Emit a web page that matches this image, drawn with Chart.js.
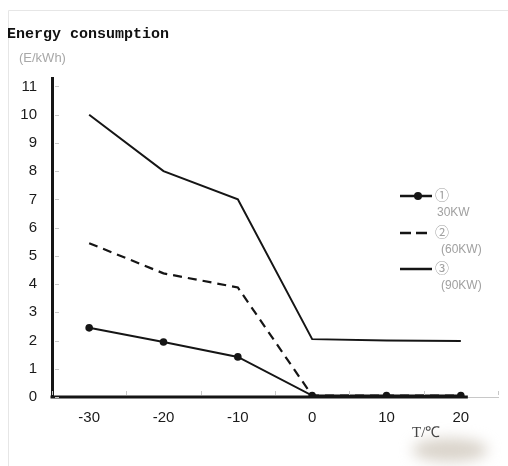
<!DOCTYPE html>
<html>
<head>
<meta charset="utf-8">
<script src="https://cdn.jsdelivr.net/npm/chart.js@4"></script>
<style>
  body { margin: 0; background: #fff; }
  #wrap { width: 508px; height: 466px; position: relative; }
</style>
</head>
<body>
<div id="wrap"><canvas id="myChart"></canvas></div>
<script>
// data
const temps = ['-30', '-20', '-10', '0', '10', '20'];
const kw30 = [2.45, 1.95, 1.42, 0.05, 0.05, 0.05];
const kw60 = [5.45, 4.38, 3.88, 0.05, 0.05, 0.05];
const kw90 = [10, 8, 7, 2.05, 2.0, 1.98];
const yTicks = [0, 1, 2, 3, 4, 5, 6, 7, 8, 9, 10, 11];
const legendNames = [['\u2460', '30KW'], ['\u2461', '(60KW)'], ['\u2462', '(90KW)']];

const ink = '#151515';

// texts, frame, small tick marks and the hand drawn legend
const extras = {
    id: 'extras',
    beforeDraw(chart) {
        const c = chart.ctx;
        c.save();
        // faint frame of the scanned figure
        c.strokeStyle = '#e6e6e6';
        c.lineWidth = 1;
        c.beginPath();
        c.moveTo(8.5, 466);
        c.lineTo(8.5, 10.5);
        c.lineTo(508, 10.5);
        c.stroke();
        // smudge in the bottom right corner
        c.filter = 'blur(7px)';
        c.fillStyle = 'rgba(205,198,186,0.75)';
        c.beginPath();
        c.ellipse(450, 450, 38, 12, 0, 0, Math.PI * 2);
        c.fill();
        c.restore();
    },
    afterDatasetsDraw(chart) {
        // heavy part of the x axis, up to the last category
        const c = chart.ctx;
        const x = chart.scales.x;
        const y = chart.scales.y;
        c.save();
        c.strokeStyle = ink;
        c.lineWidth = 3;
        c.beginPath();
        c.moveTo(x.left - 1.5, y.bottom);
        c.lineTo(x.getPixelForValue(temps.length - 1) + 7, y.bottom);
        c.stroke();
        c.restore();
    },
    afterDraw(chart) {
        const c = chart.ctx;
        const x = chart.scales.x;
        const y = chart.scales.y;
        c.save();

        // little tick marks inside the axes
        c.strokeStyle = '#c8c8c8';
        c.lineWidth = 1;
        yTicks.forEach(v => {
            const py = Math.round(y.getPixelForValue(v)) + 0.5;
            c.beginPath();
            c.moveTo(x.left + 3, py);
            c.lineTo(x.left + 7, py);
            c.stroke();
        });
        for (let i = 0; i <= temps.length; i++) {
            const px = Math.round(x.getPixelForValue(i - 0.5)) + 0.5;
            c.beginPath();
            c.moveTo(px, y.bottom - 2);
            c.lineTo(px, y.bottom - 6);
            c.stroke();
        }

        // title and units
        c.fillStyle = '#111';
        c.font = 'bold 15px "Liberation Mono"';
        c.textBaseline = 'middle';
        c.fillText('Energy consumption', 7, 34);
        c.fillStyle = '#a8a8a8';
        c.font = '13px "Liberation Sans"';
        c.fillText('(E/kWh)', 19, 58);
        c.fillStyle = '#444';
        c.font = '15px "Liberation Serif"';
        c.fillText('T/\u2103', 412, 433);

        // legend
        const rows = [196, 233, 269];
        c.strokeStyle = ink;
        c.lineWidth = 2.5;
        rows.forEach((ry, i) => {
            c.setLineDash(i === 1 ? [11, 5] : []);
            c.beginPath();
            c.moveTo(400, ry);
            c.lineTo(432, ry);
            c.stroke();
        });
        c.setLineDash([]);
        c.fillStyle = ink;
        c.beginPath();
        c.arc(418, rows[0], 4, 0, Math.PI * 2);
        c.fill();

        c.fillStyle = '#a0a0a0';
        rows.forEach((ry, i) => {
            c.font = '14px "Noto Sans CJK SC"';
            c.fillText(legendNames[i][0], 435, ry - 1);
            c.font = '12px "Liberation Sans"';
            c.fillText(legendNames[i][1], i === 0 ? 437 : 441, ry + 17);
        });
        c.restore();
    }
};

new Chart(document.getElementById('myChart'), {
    type: 'line',
    data: {
        labels: temps,
        datasets: [
            {
                label: '30KW',
                data: kw30,
                borderColor: ink,
                backgroundColor: ink,
                borderWidth: 2,
                pointRadius: 3.8,
                pointBorderWidth: 0,
                tension: 0,
            },
            {
                label: '60KW',
                data: kw60,
                borderColor: ink,
                borderWidth: 2.2,
                borderDash: [9, 6],
                pointRadius: 0,
                tension: 0,
            },
            {
                label: '90KW',
                data: kw90,
                borderColor: ink,
                borderWidth: 2,
                pointRadius: 0,
                tension: 0,
            },
        ],
    },
    options: {
        responsive: true,
        maintainAspectRatio: false,
        animation: false,
        layout: { padding: { top: 78, right: 10, left: 0, bottom: 0 } },
        plugins: {
            legend: { display: false },
            tooltip: { enabled: false },
        },
        scales: {
            x: {
                type: 'category',
                offset: true,
                grid: { display: false, drawTicks: false },
                border: { color: '#c8c8c8', width: 1 },
                ticks: {
                    color: '#1a1a1a',
                    font: { family: 'Liberation Sans', size: 15 },
                    padding: 12,
                    maxRotation: 0,
                },
                afterFit(scale) {
                    scale.height = 69;
                },
            },
            y: {
                min: 0,
                max: 11.3,
                grid: { display: false, drawTicks: false },
                border: { color: ink, width: 3 },
                ticks: {
                    color: '#1a1a1a',
                    font: { family: 'Liberation Sans', size: 15 },
                    padding: 15,
                },
                afterBuildTicks(scale) {
                    scale.ticks = yTicks.map(v => ({ value: v }));
                },
                afterFit(scale) {
                    scale.width = 52;
                },
            },
        },
    },
    plugins: [extras],
});
</script>
</body>
</html>
